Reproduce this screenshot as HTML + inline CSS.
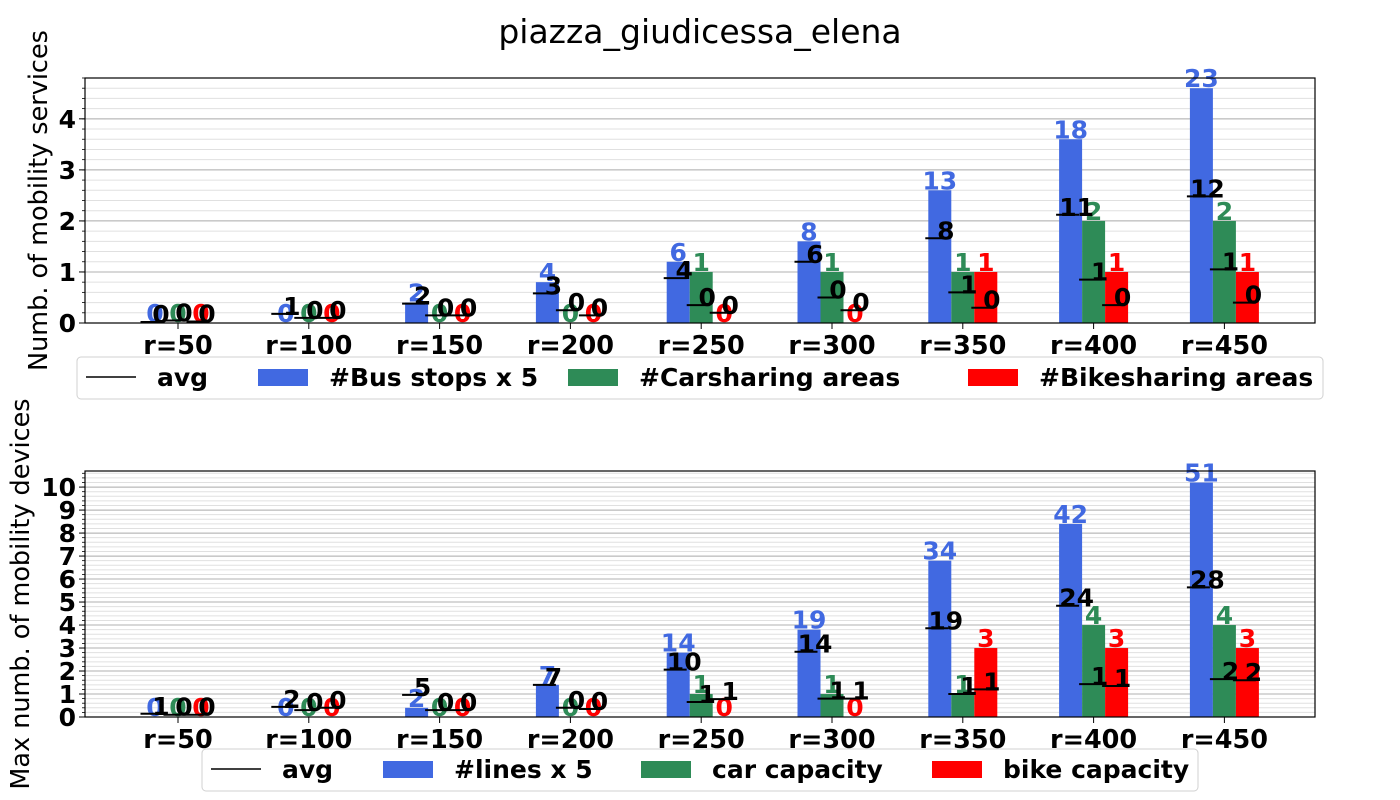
<!DOCTYPE html>
<html><head><meta charset="utf-8"><style>
body{margin:0;background:#fff;}
svg{display:block;font-family:"DejaVu Sans","Liberation Sans",sans-serif;}
</style></head><body>
<svg id="fig" width="1400" height="800" viewBox="0 0 1400 800">
<text x="700" y="43" text-anchor="middle" font-size="33">piazza_giudicessa_elena</text>
</svg>
<script>
const categories=["r=50","r=100","r=150","r=200","r=250","r=300","r=350","r=400","r=450"];
// top chart
const busStops=[0,0,2,4,6,8,13,18,23];
const carAreas=[0,0,0,0,1,1,1,2,2];
const bikeAreas=[0,0,0,0,0,0,1,1,1];
const busAvg=[0.1,0.9,1.9,2.9,4.4,6,8.3,10.6,12.4];
const busAvgLabels=[0,1,2,3,4,6,8,11,12];
const carAvg=[0.05,0.1,0.15,0.25,0.35,0.5,0.6,0.85,1.05];
const carAvgLabels=[0,0,0,0,0,0,1,1,1];
const bikeAvg=[0.03,0.1,0.15,0.15,0.2,0.25,0.3,0.35,0.4];
const bikeAvgLabels=[0,0,0,0,0,0,0,0,0];
const topTicks=[0,1,2,3,4];
// bottom chart
const lines=[0,0,2,7,14,19,34,42,51];
const carCap=[0,0,0,0,1,1,1,4,4];
const bikeCap=[0,0,0,0,0,0,3,3,3];
const linesAvg=[0.7,2.2,4.8,7,10.3,14.2,19.3,24.2,28.2];
const linesAvgLabels=[1,2,5,7,10,14,19,24,28];
const carCapAvg=[0.1,0.3,0.3,0.4,0.65,0.8,1.0,1.43,1.65];
const carCapAvgLabels=[0,0,0,0,1,1,1,1,2];
const bikeCapAvg=[0.1,0.4,0.3,0.35,0.78,0.8,1.2,1.35,1.6];
const bikeCapAvgLabels=[0,0,0,0,1,1,1,1,2];
const bottomTicks=[0,1,2,3,4,5,6,7,8,9,10];

const NS="http://www.w3.org/2000/svg";
const svg=document.getElementById('fig');
function mk(tag,attrs,parent){const e=document.createElementNS(NS,tag);for(const k in attrs)e.setAttribute(k,attrs[k]);(parent||svg).appendChild(e);return e;}
const BLUE="#4169e1",GREEN="#2e8b57",RED="#ff0000";
const FS=25;

function drawChart(o){
  const x0=85,x1=1315,y0=o.top,y1=o.bottom;
  const ys=v=>y1-(v/o.ymax)*(y1-y0);
  const xc=i=>178+i*130.8;
  const g=mk('g',{});
  
  
  for(let v=0;v<=o.ymax+1e-9;v+=0.2){
    const l=mk('line',{x1:x0,x2:x1,y1:ys(v),y2:ys(v),stroke:'#e0e0e0','stroke-width':1},g);
    
    
    mk('line',{x1:x0-3,x2:x0,y1:ys(v),y2:ys(v),stroke:'#000','stroke-width':0.8},g);
  }
  o.ticks.forEach(t=>{
    const l=mk('line',{x1:x0,x2:x1,y1:ys(t),y2:ys(t),stroke:'#b0b0b0','stroke-width':1},g);
    
    
    mk('line',{x1:x0-6,x2:x0,y1:ys(t),y2:ys(t),stroke:'#000','stroke-width':1},g);
    const tx=mk('text',{x:x0-9,y:ys(t)+9,'text-anchor':'end','font-size':FS,'font-weight':'bold'},g);
    tx.textContent=t;
    
    
  });
  const bw=23;
  const series=[[o.s[0],BLUE,o.a[0],o.al[0],-1,o.sl[0]],[o.s[1],GREEN,o.a[1],o.al[1],0,o.sl[1]],[o.s[2],RED,o.a[2],o.al[2],1,o.sl[2]]];
  series.forEach(([vals,col,avg,avl,off,lbl],si)=>{
    vals.forEach((v,i)=>{
      const h=v/o.div[si];
      const bx=xc(i)+off*bw-bw/2;
      const r=mk('rect',{x:bx,y:ys(h),width:bw,height:ys(0)-ys(h),fill:col},g);
      
      
      const t=mk('text',{x:bx+bw/2,y:ys(h)-1,'text-anchor':'middle','font-size':FS,'font-weight':'bold',fill:col},g);
      t.textContent=lbl[i];
      
      
    });
  });
  series.forEach(([vals,col,avg,avl,off],si)=>{
    avg.forEach((a,i)=>{
      const bx=xc(i)+off*bw-bw/2;
      const yy=ys(a/o.div[si]);
      const l=mk('line',{x1:bx-3,x2:bx+bw-3,y1:yy,y2:yy,stroke:'#000','stroke-width':2},g);
      
      
      const t=mk('text',{x:bx+bw/2+6,y:yy+1,'text-anchor':'middle','font-size':FS,'font-weight':'bold',fill:'#000'},g);
      t.textContent=avl[i];
      
      
    });
  });
  const fr=mk('rect',{x:x0,y:y0,width:x1-x0,height:y1-y0,fill:'none',stroke:'#000','stroke-width':1.2},g);
  
  
  categories.forEach((c,i)=>{
    mk('line',{x1:xc(i),x2:xc(i),y1:y1,y2:y1+6,stroke:'#000'},g);
    const t=mk('text',{x:xc(i),y:y1+31,'text-anchor':'middle','font-size':FS+0.5,'font-weight':'bold'},g);
    t.textContent=c;
    
    
  });
  const yl=mk('text',{x:0,y:0,transform:`translate(${o.ylx},${(y0+y1)/2+o.yly}) rotate(-90)`,'text-anchor':'middle','font-size':25.5},g);
  yl.textContent=o.ylabel;
  
  
  const L=o.leg;
  const lg=mk('g',{},g);
  
  
  mk('rect',{x:L.x,y:L.y,width:L.w,height:42,rx:4,fill:'#fff',stroke:'#d0d0d0'},lg);
  const ly=L.y+20;
  mk('line',{x1:L.items[0],x2:L.items[0]+50,y1:ly,y2:ly,stroke:'#000','stroke-width':1.5},lg);
  const cols=[null,BLUE,GREEN,RED];
  L.labels.forEach((lab,k)=>{
    const ix=L.items[k];
    if(k>0) mk('rect',{x:ix,y:ly-8,width:50,height:17,fill:cols[k]},lg);
    const t=mk('text',{x:ix+L.gap,y:ly+9,'font-size':FS,'font-weight':'bold'},lg);
    t.textContent=lab;
    
    
  });
}
drawChart({name:'services-chart',top:78,bottom:323,ymax:4.8,ticks:topTicks,
  s:[busStops,carAreas,bikeAreas],sl:[busStops,carAreas,bikeAreas],div:[5,1,1],
  a:[busAvg,carAvg,bikeAvg],al:[busAvgLabels,carAvgLabels,bikeAvgLabels],
  keys:['bus','car','bike'],ylabel:'Numb. of mobility services',ylx:47,yly:0,
  leg:{x:77,y:357,w:1246,items:[86,258,568,968],gap:71,labels:['avg','#Bus stops x 5','#Carsharing areas','#Bikesharing areas']}});
drawChart({name:'devices-chart',top:471,bottom:717,ymax:10.7,ticks:bottomTicks,
  s:[lines,carCap,bikeCap],sl:[lines,carCap,bikeCap],div:[5,1,1],
  a:[linesAvg,carCapAvg,bikeCapAvg],al:[linesAvgLabels,carCapAvgLabels,bikeCapAvgLabels],
  keys:['lines','car','bike'],ylabel:'Max numb. of mobility devices',ylx:29,yly:0,
  leg:{x:202,y:749,w:996,items:[211,383,641,932],gap:71,labels:['avg','#lines x 5','car capacity','bike capacity']}});
</script>
</body></html>
